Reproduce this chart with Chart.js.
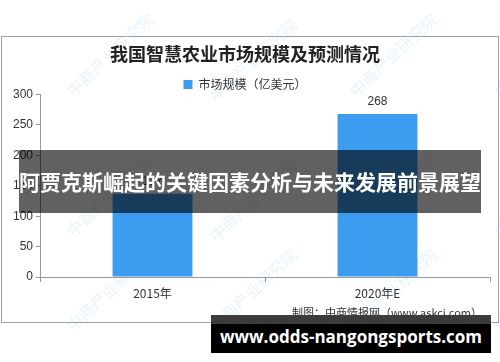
<!DOCTYPE html>
<html>
<head>
<meta charset="utf-8">
<script src="https://cdn.jsdelivr.net/npm/chart.js@4.4.0/dist/chart.umd.min.js"></script>
<style>
  body { margin: 0; background: #fff; }
  #wrap { position: relative; width: 500px; height: 362px; overflow: hidden; }
  #banner1 {
    position: absolute; left: 19px; top: 150px; width: 462px; height: 63px;
    background: rgba(0,0,0,0.62); color: #fff;
    font: bold 21px "Noto Sans CJK SC", sans-serif;
    line-height: 63px; text-align: center; white-space: nowrap;
  }
  #banner2 {
    position: absolute; left: 211px; top: 315px; width: 280px; height: 38px;
    background: #000; color: #fff;
    font: bold 17px "Open Sans", sans-serif;
    text-align: center; white-space: nowrap;
  }
  #banner2 .strip { position: absolute; left: 0; top: 0; width: 100%; height: 9px; background: #3c3c3c; }
  #banner2 span { position: relative; line-height: 44px; }
</style>
</head>
<body>
<div id="wrap">
  <canvas id="mycanvas" width="500" height="362"></canvas>
  <div id="banner1">阿贾克斯崛起的关键因素分析与未来发展前景展望</div>
  <div id="banner2"><div class="strip"></div><span>www.odds-nangongsports.com</span></div>
</div>
<script>
var years = ['2015年', '2020年E'];
var marketSize = [137, 268];
var yTicks = [0, 50, 100, 150, 200, 250, 300];

// frame, watermark, credits
var decor = {
  id: 'decor',
  afterLayout: function(chart) {
    // legend sits a bit closer to the plot in the original
    chart.legend.top += 6;
    chart.legend.bottom += 6;
  },
  beforeDraw: function(chart) {
    var ctx = chart.ctx;
    ctx.save();
    ctx.fillStyle = 'rgba(90,160,220,0.14)';
    ctx.font = '16px "Noto Sans CJK SC"';
    var spots = [[62,100],[205,105],[345,100],[490,100],[62,240],[205,245],[345,240],[490,240],[62,335],[205,335],[345,335],[490,335]];
    spots.forEach(function(p) {
      ctx.save();
      ctx.translate(p[0], p[1]);
      ctx.rotate(-0.75);
      ctx.fillText('中商产业研究院', 10, 0);
      ctx.restore();
    });
    ctx.restore();
  },
  afterDraw: function(chart) {
    var ctx = chart.ctx;
    ctx.save();
    ctx.strokeStyle = '#a0a0a0';
    ctx.lineWidth = 1;
    ctx.strokeRect(1.5, 36.5, 497, 286);
    ctx.fillStyle = '#333';
    ctx.font = '11px "Noto Sans CJK SC"';
    ctx.textAlign = 'right';
    ctx.textBaseline = 'middle';
    ctx.fillText('制图：中商情报网（www.askci.com）', 482, 313);
    // value labels
    var meta = chart.getDatasetMeta(0);
    ctx.font = '12px "Liberation Sans"';
    ctx.textAlign = 'center';
    ctx.textBaseline = 'bottom';
    meta.data.forEach(function(bar, i) {
      ctx.fillText(marketSize[i], bar.x, bar.y - 6);
    });
    ctx.restore();
  }
};

var ctx = document.getElementById('mycanvas');
var chart = new Chart(ctx, {
  type: 'bar',
  data: {
    labels: years,
    datasets: [{
      label: '市场规模（亿美元）',
      backgroundColor: '#3b9cf0',
      data: marketSize,
      categoryPercentage: 1,
      barPercentage: 0.355
    }]
  },
  options: {
    responsive: false,
    animation: false,
    layout: { padding: { top: 36, right: 10, left: 0, bottom: 0 } },
    plugins: {
      title: {
        display: true,
        text: '我国智慧农业市场规模及预测情况',
        color: '#222',
        font: { family: '"Noto Sans CJK SC"', size: 18, weight: 'bold' },
        padding: { top: 7, bottom: 4 }
      },
      legend: {
        labels: {
          boxWidth: 9, boxHeight: 9, padding: 4,
          color: '#333',
          font: { family: '"Noto Sans CJK SC"', size: 12 }
        }
      },
      tooltip: { enabled: false }
    },
    scales: {
      x: {
        grid: { display: true, drawOnChartArea: false, tickLength: 5, color: '#999' },
        border: { color: '#999' },
        ticks: { color: '#333', font: { family: '"Noto Sans CJK SC"', size: 12 }, padding: 4 },
        afterFit: function(s) { s.height = 85; }
      },
      y: {
        min: 0, max: 300,
        afterBuildTicks: function(s) { s.ticks = yTicks.map(function(v) { return { value: v }; }); },
        grid: { display: true, drawOnChartArea: false, tickLength: 4, color: '#999' },
        border: { color: '#999' },
        ticks: { color: '#333', font: { family: '"Liberation Sans"', size: 12 }, padding: 3 },
        afterFit: function(s) { s.width = 40; }
      }
    }
  },
  plugins: [decor]
});
</script>
</body>
</html>
